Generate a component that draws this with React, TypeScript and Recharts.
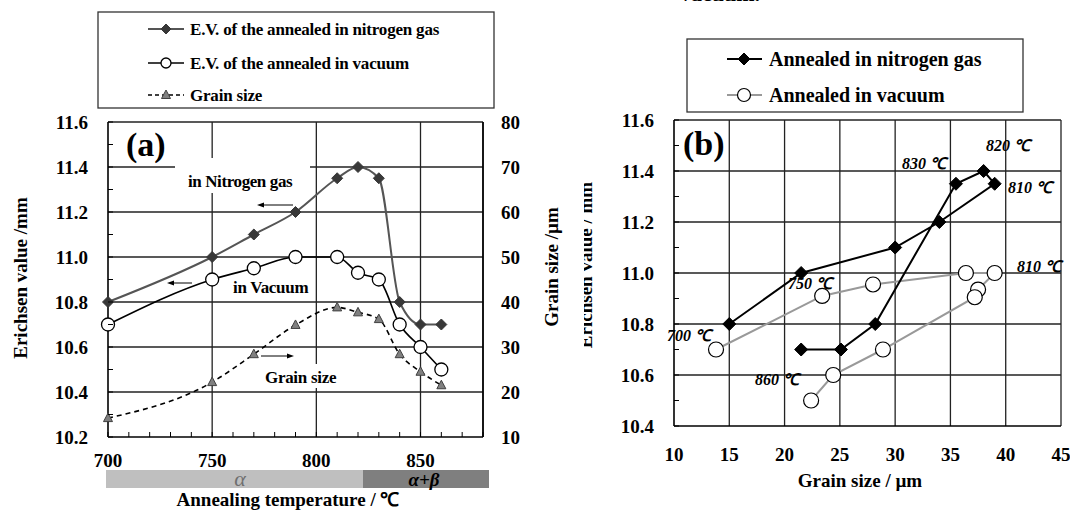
import React from 'react'
import { LineChart, Line, ScatterChart, Scatter, XAxis, YAxis, ReferenceLine } from 'recharts'

// panel (a): annealing temperature vs Erichsen value / grain size
const tempsA = [700, 750, 770, 790, 810, 820, 830, 840, 850, 860]
const evNitrogenA = [10.8, 11.0, 11.1, 11.2, 11.35, 11.4, 11.35, 10.8, 10.7, 10.7]
const evVacuumA = [10.7, 10.9, 10.95, 11.0, 11.0, 10.93, 10.9, 10.7, 10.6, 10.5]
const grainSizeA = [14.2, 22.2, 28.4, 34.9, 38.8, 37.7, 36.2, 28.4, 24.5, 21.5]

// panel (b): grain size vs Erichsen value
const grainNitrogenB = [15.0, 21.5, 30.0, 34.0, 39.0, 38.0, 35.5, 28.2, 25.1, 21.5]
const evNitrogenB = [10.8, 11.0, 11.1, 11.2, 11.35, 11.4, 11.35, 10.8, 10.7, 10.7]
const grainVacuumB = [13.8, 23.4, 28.0, 36.4, 39.0, 37.5, 37.2, 28.9, 24.4, 22.4]
const evVacuumB = [10.7, 10.91, 10.955, 11.0, 11.0, 10.935, 10.905, 10.7, 10.6, 10.5]

// ticks and grid
const yTicksA = [10.2, 10.3, 10.4, 10.5, 10.6, 10.7, 10.8, 10.9, 11.0, 11.1, 11.2, 11.3, 11.4, 11.5, 11.6]
const rightTicksA = [10, 20, 30, 40, 50, 60, 70, 80]
const xTicksA = [700, 710, 720, 730, 740, 750, 760, 770, 780, 790, 800, 810, 820, 830, 840, 850, 860, 870, 880]
const xLabelsA = [700, 750, 800, 850]
const gridYA = [10.4, 10.6, 10.8, 11.0, 11.2, 11.4, 11.6]
const gridXA = [750, 800, 850, 880]

const yTicksB = [10.4, 10.5, 10.6, 10.7, 10.8, 10.9, 11.0, 11.1, 11.2, 11.3, 11.4, 11.5, 11.6]
const xTicksB = [10, 15, 20, 25, 30, 35, 40, 45]
const gridYB = [10.6, 10.8, 11.0, 11.2, 11.4, 11.6]
const gridXB = [15, 20, 25, 30, 35, 40, 45]

const serif = 'Liberation Serif'

const rowsA = tempsA.map((t, i) => ({ t, nitrogen: evNitrogenA[i], vacuum: evVacuumA[i], grain: grainSizeA[i] }))
const nitrogenB = grainNitrogenB.map((x, i) => ({ x, y: evNitrogenB[i] }))
const vacuumB = grainVacuumB.map((x, i) => ({ x, y: evVacuumB[i] }))

const Diamond = ({ cx, cy, r, fill }: any) => (
	<polygon points={`${cx},${cy - r} ${cx + r},${cy} ${cx},${cy + r} ${cx - r},${cy}`} fill={fill} stroke={fill} />
)
const Circle = ({ cx, cy, r, sw = 1.3 }: any) => <circle cx={cx} cy={cy} r={r} fill='#fff' stroke='#000' strokeWidth={sw} />
const Triangle = ({ cx, cy }: any) => (
	<polygon points={`${cx},${cy - 5} ${cx + 4.5},${cy + 3.5} ${cx - 4.5},${cy + 3.5}`} fill='#808080' stroke='#404040' />
)

const isMajor = (v: number) => Math.round(v * 10) % 2 === 0

const leftTick = (p: any) => (
	<g key={`l${p.payload.value}`}>
		<line x1={p.x} x2={p.x + 5} y1={p.y} y2={p.y} stroke='#000' />
		{isMajor(p.payload.value) && (
			<text x={p.x - 20} y={p.y + 6.5} textAnchor='end' fontFamily={serif} fontWeight='bold' fontSize={19} fill='#000'>
				{p.payload.value.toFixed(1)}
			</text>
		)}
	</g>
)

const rightTick = (p: any) => (
	<text x={p.x + 18} y={p.y + 6.5} textAnchor='start' fontFamily={serif} fontWeight='bold' fontSize={19} fill='#000'>
		{p.payload.value}
	</text>
)

const bottomTickA = (p: any) => (
	<g key={`b${p.payload.value}`}>
		<line x1={p.x} x2={p.x} y1={p.y} y2={p.y - 5} stroke='#000' />
		{xLabelsA.includes(p.payload.value) && (
			<text x={p.x} y={p.y + 30} textAnchor='middle' fontFamily={serif} fontWeight='bold' fontSize={19} fill='#000'>
				{p.payload.value}
			</text>
		)}
	</g>
)

const bottomTickB = (p: any) => (
	<text x={p.x} y={p.y + 35} textAnchor='middle' fontFamily={serif} fontWeight='bold' fontSize={19} fill='#000'>
		{p.payload.value}
	</text>
)

const txt = { fontFamily: serif, fontWeight: 'bold' as const, fill: '#000' }
const tempLbl = { ...txt, fontStyle: 'italic' as const, fontSize: 16 }

const ChartA = () => (
	<LineChart width={540} height={510} data={rowsA} margin={{ top: 122, right: 17, bottom: 43, left: 48 }}>
		{gridYA.map(v => (
			<ReferenceLine key={`gy${v}`} yAxisId='left' y={v} stroke='#222' strokeWidth={1.3} />
		))}
		{gridXA.map(v => (
			<ReferenceLine key={`gx${v}`} yAxisId='left' x={v} stroke='#222' strokeWidth={1.3} />
		))}
		<XAxis dataKey='t' type='number' domain={[700, 880]} ticks={xTicksA} interval={0} height={30}
			tickLine={false} tickSize={0} tickMargin={0} tick={bottomTickA} axisLine={{ stroke: '#000', strokeWidth: 1.6 }} />
		<YAxis yAxisId='left' type='number' domain={[10.2, 11.6]} ticks={yTicksA} interval={0} width={60}
			tickLine={false} tickSize={0} tickMargin={0} tick={leftTick} axisLine={{ stroke: '#000', strokeWidth: 1.6 }} />
		<YAxis yAxisId='right' orientation='right' type='number' domain={[10, 80]} ticks={rightTicksA} interval={0} width={40}
			tickLine={false} tickSize={0} tickMargin={0} tick={rightTick} axisLine={{ stroke: '#000', strokeWidth: 1.6 }} />
		<Line yAxisId='right' dataKey='grain' type='monotone' stroke='#000' strokeWidth={1.6} strokeDasharray='5 4'
			dot={(p: any) => <Triangle key={`tr${p.index}`} cx={p.cx} cy={p.cy} />} activeDot={false} isAnimationActive={false} />
		<Line yAxisId='left' dataKey='nitrogen' type='monotone' stroke='#555' strokeWidth={2}
			dot={(p: any) => <Diamond key={`dm${p.index}`} cx={p.cx} cy={p.cy} r={5.5} fill='#383838' />} activeDot={false} isAnimationActive={false} />
		<Line yAxisId='left' dataKey='vacuum' type='monotone' stroke='#000' strokeWidth={1.6}
			dot={(p: any) => <Circle key={`ci${p.index}`} cx={p.cx} cy={p.cy} r={6.5} />} activeDot={false} isAnimationActive={false} />
	</LineChart>
)

const ChartB = () => (
	<ScatterChart width={530} height={510} margin={{ top: 120, right: 9, bottom: 54, left: 74 }}>
		{gridYB.map(v => (
			<ReferenceLine key={`gy${v}`} y={v} stroke='#222' strokeWidth={1.3} />
		))}
		{gridXB.map(v => (
			<ReferenceLine key={`gx${v}`} x={v} stroke='#222' strokeWidth={1.3} />
		))}
		<XAxis dataKey='x' type='number' domain={[10, 45]} ticks={xTicksB} interval={0} height={30}
			tickLine={false} tickSize={0} tickMargin={0} tick={bottomTickB} axisLine={{ stroke: '#000', strokeWidth: 1.6 }} />
		<YAxis dataKey='y' type='number' domain={[10.4, 11.6]} ticks={yTicksB} interval={0} width={60}
			tickLine={false} tickSize={0} tickMargin={0} tick={leftTick} axisLine={{ stroke: '#000', strokeWidth: 1.6 }} />
		<Scatter data={vacuumB} line={{ stroke: '#999', strokeWidth: 2 }} lineType='joint'
			shape={(p: any) => <Circle cx={p.cx} cy={p.cy} r={7.5} sw={1.2} />} isAnimationActive={false} />
		<Scatter data={nitrogenB} line={{ stroke: '#000', strokeWidth: 2 }} lineType='joint'
			shape={(p: any) => <Diamond cx={p.cx} cy={p.cy} r={6.5} fill='#000' />} isAnimationActive={false} />
	</ScatterChart>
)

const Arrow = ({ x1, x2, y }: { x1: number; x2: number; y: number }) => {
	const dir = x2 > x1 ? 1 : -1
	return (
		<g>
			<line x1={x1} x2={x2 - dir * 4} y1={y} y2={y} stroke='#000' strokeWidth={1} />
			<polygon points={`${x2},${y} ${x2 - dir * 7},${y - 2.5} ${x2 - dir * 7},${y + 2.5}`} fill='#000' />
		</g>
	)
}

const Overlay = () => (
	<svg width={1070} height={510} style={{ position: 'absolute', left: 0, top: 0, pointerEvents: 'none' }}>
		<defs>
			<clipPath id='clipTitleB'>
				<rect x={584} y={0} width={30} height={510} />
			</clipPath>
		</defs>
		<text x={680} y={1} {...txt} fontSize={22}>vacuum.</text>

		{/* legend (a) */}
		<rect x={98} y={12} width={396} height={96} fill='#fff' stroke='#333' strokeWidth={1.3} />
		<line x1={148} x2={184} y1={29} y2={29} stroke='#555' strokeWidth={2} />
		<Diamond cx={166} cy={29} r={5} fill='#383838' />
		<text x={190} y={35} {...txt} fontSize={17} letterSpacing={-0.2}>E.V. of the annealed in nitrogen gas</text>
		<line x1={148} x2={184} y1={63} y2={63} stroke='#000' strokeWidth={1.6} />
		<Circle cx={166} cy={63} r={5} />
		<text x={190} y={69} {...txt} fontSize={17} letterSpacing={-0.2}>E.V. of the annealed in vacuum</text>
		<line x1={148} x2={184} y1={95} y2={95} stroke='#000' strokeWidth={1.6} strokeDasharray='4 3' />
		<Triangle cx={166} cy={95} />
		<text x={190} y={101} {...txt} fontSize={17} letterSpacing={-0.2}>Grain size</text>

		{/* legend (b) */}
		<rect x={687} y={39} width={336} height={73} fill='#fff' stroke='#333' strokeWidth={1.3} />
		<line x1={727} x2={762} y1={59} y2={59} stroke='#000' strokeWidth={2} />
		<Diamond cx={744} cy={59} r={6} fill='#000' />
		<text x={769} y={66} {...txt} fontSize={20}>Annealed in nitrogen gas</text>
		<line x1={727} x2={762} y1={95} y2={95} stroke='#999' strokeWidth={2} />
		<Circle cx={744} cy={95} r={6.5} sw={1.2} />
		<text x={769} y={102} {...txt} fontSize={20}>Annealed in vacuum</text>

		{/* panel (a) annotations */}
		<text x={126} y={156} {...txt} fontSize={34}>(a)</text>
		<rect x={175} y={158} width={135} height={35} fill='#fff' />
		<text x={188} y={187} {...txt} fontSize={17} letterSpacing={-0.4}>in Nitrogen gas</text>
		<Arrow x1={293} x2={257} y={205} />
		<text x={233} y={293} {...txt} fontSize={17} letterSpacing={-0.3}>in Vacuum</text>
		<Arrow x1={192} x2={167} y={283} />
		<rect x={260} y={364} width={84} height={24} fill='#fff' />
		<text x={265} y={383} {...txt} fontSize={17} letterSpacing={-0.3}>Grain size</text>
		<Arrow x1={261} x2={294} y={356} />

		{/* phase bar */}
		<rect x={106} y={470} width={257} height={18} fill='#bfbfbf' />
		<rect x={363} y={470} width={126} height={18} fill='#7f7f7f' />
		<text x={240} y={486} textAnchor='middle' fontFamily={serif} fontStyle='italic' fontSize={22} fill='#6f6f6f'>α</text>
		<text x={424} y={486} textAnchor='middle' fontFamily={serif} fontStyle='italic' fontWeight='bold' fontSize={19} fill='#000'>α+β</text>
		<text x={288} y={506} textAnchor='middle' {...txt} fontSize={19}>Annealing temperature / ℃</text>

		{/* axis titles */}
		<text x={27} y={278} textAnchor='middle' transform='rotate(-90, 27, 278)' {...txt} fontSize={19}>Erichsen value /mm</text>
		<text x={558} y={267} textAnchor='middle' transform='rotate(-90, 558, 267)' {...txt} fontSize={19}>Grain size /µm</text>
		<g clipPath='url(#clipTitleB)'>
			<text x={592} y={265} textAnchor='middle' transform='rotate(-90, 592, 265)' {...txt} fontSize={19}>Erichsen value / mm</text>
		</g>
		<text x={860} y={487} textAnchor='middle' {...txt} fontSize={19}>Grain size / µm</text>

		{/* panel (b) annotations */}
		<text x={683} y={155} {...txt} fontSize={34}>(b)</text>
		<text x={986} y={151} {...tempLbl}>820 ℃</text>
		<text x={902} y={169} {...tempLbl}>830 ℃</text>
		<text x={1008} y={193} {...tempLbl}>810 ℃</text>
		<text x={1017} y={272} {...tempLbl}>810 ℃</text>
		<text x={788} y={289} {...tempLbl}>750 ℃</text>
		<text x={667} y={341} {...tempLbl}>700 ℃</text>
		<text x={755} y={385} {...tempLbl}>860 ℃</text>
	</svg>
)

const App = () => {
	return (
		<div style={{ position: 'absolute', left: 0, top: 0, width: 1070, height: 510, background: '#fff' }}>
			<div style={{ position: 'absolute', left: 0, top: 0 }}>
				<ChartA />
			</div>
			<div style={{ position: 'absolute', left: 540, top: 0 }}>
				<ChartB />
			</div>
			<Overlay />
		</div>
	)
}

export default App
